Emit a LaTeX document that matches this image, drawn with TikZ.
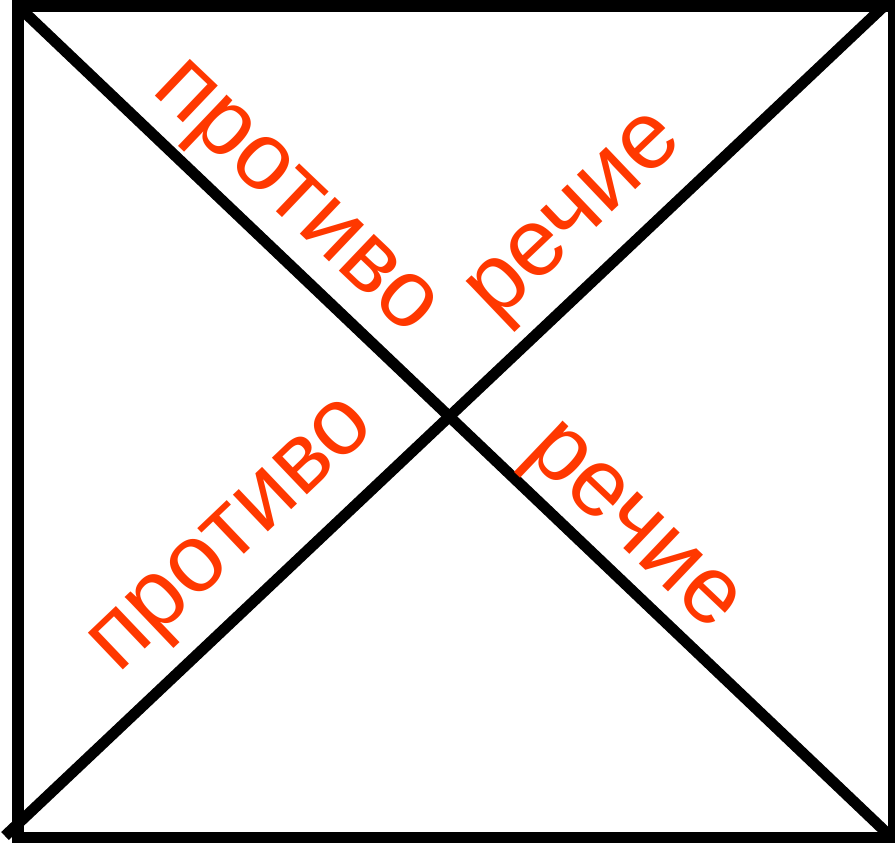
\documentclass[tikz,border=0pt]{standalone}
\usepackage{fontspec}
\setmainfont{Liberation Sans}
\definecolor{labelred}{RGB}{255,56,0}
\begin{document}
\begin{tikzpicture}[x=1pt,y=-1pt,
  frame/.style={draw=black,line width=12pt},
  diag/.style={draw=black,line width=11pt},
  word/.style={text=labelred,inner sep=0pt,anchor=base west,
    font=\fontsize{96}{96}\selectfont}]
\useasboundingbox (0,0) rectangle (895,843);
\clip (0,0) rectangle (895,843);
\fill[white] (0,0) rectangle (895,843);
\coordinate (tl) at (18,6);
\coordinate (br) at (894,838);
\coordinate (dA1) at (20,8);
\coordinate (dA2) at (890,836);
\coordinate (dB1) at (5,836);
\coordinate (dB2) at (882,8);
\draw[frame] (tl) rectangle (br);
\draw[diag] (dA1) -- (dA2);
\draw[diag] (dB1) -- (dB2);
\node[word,rotate=-43.6] (w1) at (150,91) {противо};
\node[word,rotate=43.6] (w2) at (496,323) {речие};
\node[word,rotate=43.6] (w3) at (118,675) {противо};
\node[word,rotate=-43.6] (w4) at (523,453) {речие};
\end{tikzpicture}
\end{document}
